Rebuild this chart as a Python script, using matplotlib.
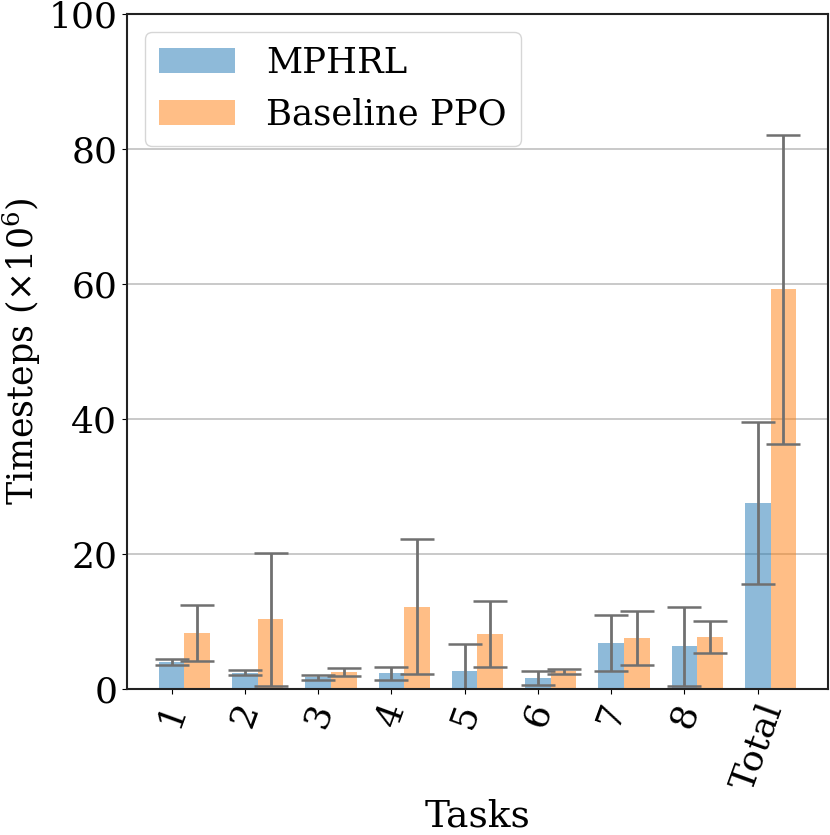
import numpy as np
import matplotlib
matplotlib.use("Agg")
import matplotlib.pyplot as plt

# timesteps (x 10^6)
tasks = ["1", "2", "3", "4", "5", "6", "7", "8", "Total"]
mphrl_mean = [4.0, 2.4, 1.7, 2.3, 2.7, 1.6, 6.8, 6.3, 27.6]
mphrl_err = [0.4, 0.37, 0.35, 1.0, 3.9, 1.0, 4.1, 5.8, 12.0]
ppo_mean = [8.3, 10.3, 2.5, 12.2, 8.1, 2.6, 7.6, 7.7, 59.2]
ppo_err = [4.2, 9.9, 0.6, 10.0, 4.9, 0.35, 4.0, 2.4, 22.85]

plt.rcParams['font.family'] = 'DejaVu Serif'
plt.rcParams['mathtext.fontset'] = 'dejavuserif'
plt.rcParams['font.size'] = 26

fig, ax = plt.subplots(figsize=(8.3, 8.35), dpi=100)
fig.subplots_adjust(left=0.153, right=0.9976, top=0.983, bottom=0.175)

x = np.arange(len(tasks))
w = 0.35
err_kw = dict(ecolor='#707070', elinewidth=2, capsize=12, capthick=1.8)
ax.bar(x, mphrl_mean, w, yerr=mphrl_err, color='tab:blue', alpha=0.5,
       error_kw=err_kw, label='MPHRL')
ax.bar(x + w, ppo_mean, w, yerr=ppo_err, color='tab:orange', alpha=0.5,
       error_kw=err_kw, label='Baseline PPO')

ax.set_ylim(0, 100)
ax.set_xticks(x)
ax.set_xticklabels(tasks, rotation=70, ha='center')
ax.set_xlabel("Tasks", fontsize=27, labelpad=2)
ax.set_ylabel(r"Timesteps ($\times 10^6$)", fontsize=25)
ax.yaxis.grid(True, color='#c0c0c0', linewidth=1.2)
ax.set_axisbelow(True)
for s in ax.spines.values():
    s.set_linewidth(1.5)
    s.set_color('#222222')
ax.legend(loc='upper left', fontsize=25.5, handlelength=2.15, handletextpad=0.88)

fig.savefig("out.png")
